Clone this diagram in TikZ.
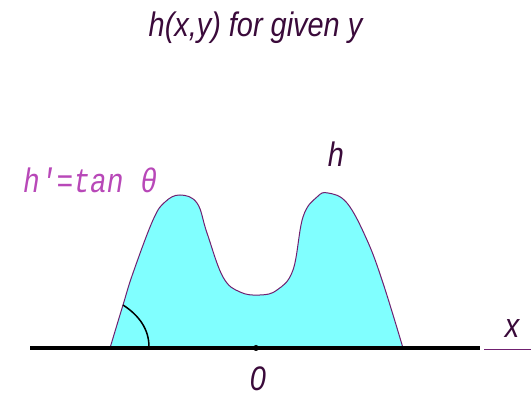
\documentclass[tikz,border=0pt]{standalone}
\usepackage{fontspec}
\newfontfamily\labfont{Liberation Sans}[FakeStretch=0.85]
\newfontfamily\monofont{Liberation Mono}[FakeStretch=0.82]
\definecolor{titlecol}{HTML}{3A0A3A}
\definecolor{edgecol}{HTML}{702070}
\definecolor{fillcol}{HTML}{80FFFF}
\definecolor{magcol}{HTML}{B848B8}
\begin{document}
\begin{tikzpicture}[x=1pt,y=-1pt,
  lab/.style={font=\labfont\itshape\fontsize{34}{34}\selectfont, text=titlecol, inner sep=0pt},
  monolab/.style={font=\monofont\itshape\fontsize{34}{34}\selectfont, text=magcol, inner sep=0pt},
  axisline/.style={line width=4pt, black},
  thinline/.style={line width=1pt, edgecol}]
\useasboundingbox (0,0) rectangle (531,398);
% hump
\filldraw[fill=fillcol, draw=edgecol, line width=1pt]
  plot[smooth, tension=0.65] coordinates {(110,348) (123,305) (133,273) (153,220) (165,202) (180,195) (197,203) (207,233) (223,277) (240,292) (260,295) (277,290) (293,270) (303,217) (317,197) (328,193) (347,203) (367,240) (383,283) (403,348)} -- cycle;
% angle arc
\coordinate (arcA) at (123,305);
\coordinate (arcB) at (149,347);
\draw[line width=1.5pt, black] (arcA) .. controls (140,316) and (149,330) .. (arcB);
% axis
\coordinate (axL) at (30,348);
\coordinate (axR) at (480,348);
\coordinate (thL) at (484,350);
\coordinate (thR) at (531,350);
\draw[axisline] (axL) -- (axR);
\draw[thinline] (thL) -- (thR);
\node[circle, fill=black, inner sep=0pt, minimum size=6pt] (origin) at (256,348) {};
% labels
\node[lab, anchor=base] (title) at (255.5,37) {h(x,y) for given y};
\node[lab, anchor=base] (hlab) at (336,167) {h};
\node[monolab, anchor=base west] (tanlab) at (23,193) {h'=tan θ};
\node[lab, anchor=base] (xlab) at (512,338) {x};
\node[lab, anchor=base, text depth=0pt] (zlab) at (258,391) {0};
\end{tikzpicture}
\end{document}
